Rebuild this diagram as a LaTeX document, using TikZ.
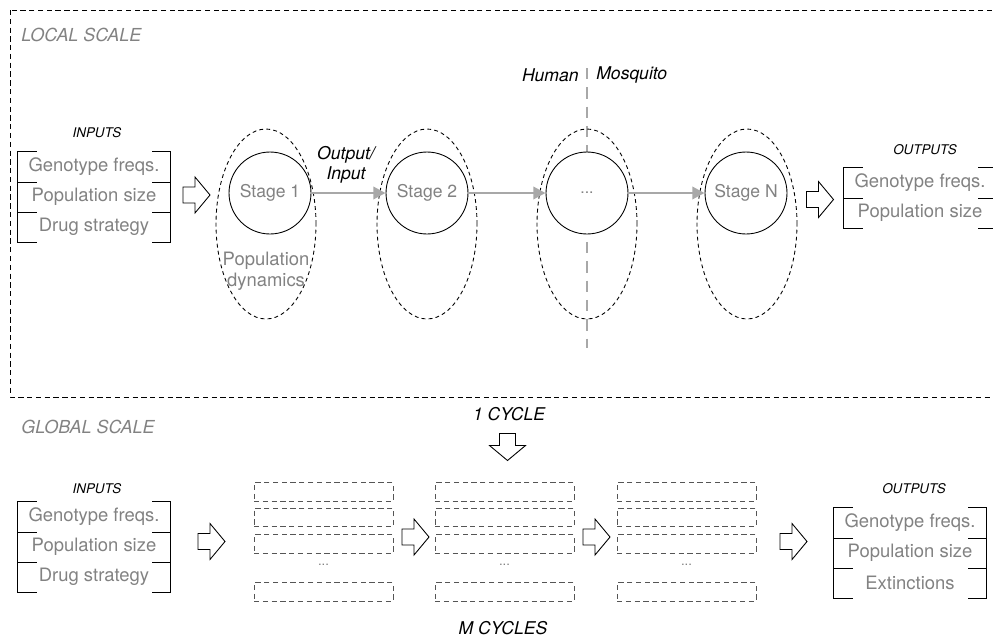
\documentclass[tikz,border=0pt]{standalone}
\usepackage{fontspec}
\setmainfont{TeX Gyre Heros}
\usetikzlibrary{arrows.meta,shapes.geometric,positioning}
\definecolor{txtgray}{RGB}{130,130,130}
\definecolor{linkgray}{RGB}{168,168,168}
\definecolor{boxgray}{RGB}{85,85,85}
\tikzset{harrow/.pic={\draw[line width=0.5pt,fill=white] (-13.5,-8) -- (-1.5,-8) -- (-1.5,-18) -- (13.5,0) -- (-1.5,18) -- (-1.5,8) -- (-13.5,8) -- cycle;}}

\begin{document}
\begin{tikzpicture}[x=0.02cm,y=-0.02cm,>={Triangle[length=7pt,width=7pt]},every node/.style={font=\fontsize{10}{12}\selectfont},row/.style={minimum width=3.04cm,minimum height=0.6cm,inner sep=0pt,text=txtgray,font=\fontsize{10.5}{12}\selectfont},head/.style={inner sep=0pt,font=\fontsize{7.6}{9}\selectfont\itshape},scalelbl/.style={anchor=west,inner sep=0pt,text=txtgray,font=\fontsize{10.2}{12}\selectfont\itshape},lbl/.style={inner sep=0pt,font=\fontsize{10}{11.3}\selectfont\itshape},stage/.style={circle,draw,fill=white,line width=0.5pt,minimum size=1.64cm,inner sep=0pt,text=txtgray},popell/.style={ellipse,draw,dash pattern=on 2.2pt off 1.8pt,line width=0.5pt,minimum width=2cm,minimum height=3.8cm,inner sep=0pt},flow/.style={->,linkgray,line width=1.6pt},cyc/.style={draw=boxgray,dash pattern=on 3pt off 2pt,line width=0.5pt,minimum width=2.78cm,minimum height=0.37cm,inner sep=0pt},]
\clip (0,0) rectangle (993,639);
% local scale
\draw[dash pattern=on 3pt off 2pt,line width=0.5pt] (10,10) rectangle (1010,397);
\node[scalelbl] (local) at (21,35) {LOCAL SCALE};
\node[head] (lin) at (97,133) {INPUTS};
\node[row] (li1) at (94,167) {Genotype freqs.};
\node[row] (li2) at (94,197) {Population size};
\node[row] (li3) at (94,227) {Drug strategy};
\draw ([xshift=0.38cm]li1.north west) -| (li3.south west) -- ++(19,0);
\draw ([xshift=-0.36cm]li1.north east) -| (li3.south east) -- ++(-18,0);
\draw (li1.south west) -- ++(19,0) (li1.south east) -- ++(-18,0);
\draw (li2.south west) -- ++(19,0) (li2.south east) -- ++(-18,0);
\pic (la1) at (196.5,195) {harrow};
% human | mosquito split, under the stages
\coordinate (hmtop) at (587,68);
\coordinate (hmbot) at (587,348);
\draw[linkgray,line width=1.6pt,dash pattern=on 6.5pt off 4.5pt] (hmtop) -- (hmbot);
\node[lbl,anchor=east] (human) at (579,75) {Human};
\node[lbl,anchor=west] (mosq) at (596,75) {Mosquito};
\node[popell] (e1) at (266,224) {};
\node[popell] (e2) at (427,224) {};
\node[popell] (e3) at (587,224) {};
\node[popell] (e4) at (747,224) {};
\node[stage] (s1) at (270,193) {Stage 1};
\node[stage] (s2) at (427,193) {Stage 2};
\node[stage] (s3) at (587,193) {\raisebox{-1pt}{\fontsize{9}{9}\selectfont...}};
\node[stage] (s4) at (746,193) {Stage N};
\node[text=txtgray,align=center,inner sep=0pt,font=\fontsize{10.5}{12}\selectfont] (pd) at (266,271) {Population\\dynamics};
\draw[flow] (s1) -- (s2);
\draw[flow] (s2) -- (s3);
\draw[flow] (s3) -- (s4);
\node[lbl,align=center] (oi) at (346,165) {Output/\\Input};
\pic (la2) at (820,199.5) {harrow};
\node[head] (lout) at (925,150) {OUTPUTS};
\node[row] (lo1) at (920,183) {Genotype freqs.};
\node[row] (lo2) at (920,213) {Population size};
\draw ([xshift=0.38cm]lo1.north west) -| (lo2.south west) -- ++(19,0);
\draw ([xshift=-0.36cm]lo1.north east) -| (lo2.south east) -- ++(-18,0);
\draw (lo1.south west) -- ++(19,0) (lo1.south east) -- ++(-18,0);
% global scale
\node[scalelbl] (global) at (21,427) {GLOBAL SCALE};
\node[lbl] (one) at (509,414) {1 CYCLE};
\pic[rotate=-90] (down) at (507.5,447) {harrow};
\node[head] (gin) at (97,489) {INPUTS};
\node[row] (gi1) at (94,517) {Genotype freqs.};
\node[row] (gi2) at (94,547) {Population size};
\node[row] (gi3) at (94,577) {Drug strategy};
\draw ([xshift=0.38cm]gi1.north west) -| (gi3.south west) -- ++(19,0);
\draw ([xshift=-0.36cm]gi1.north east) -| (gi3.south east) -- ++(-18,0);
\draw (gi1.south west) -- ++(19,0) (gi1.south east) -- ++(-18,0);
\draw (gi2.south west) -- ++(19,0) (gi2.south east) -- ++(-18,0);
\foreach \gx [count=\g] in {323.5,504.5,686.5} {
\foreach \ry [count=\r] in {492,517.5,544,592}
\node[cyc] (c\g-\r) at (\gx,\ry) {};
\node[text=txtgray,font=\fontsize{7.5}{8}\selectfont] (d\g) at (\gx,565) {...};
}
\pic (ga1) at (211.5,541.5) {harrow};
\pic (ga2) at (415.5,537) {harrow};
\pic (ga3) at (596.5,537) {harrow};
\pic (ga4) at (793.5,541.5) {harrow};
\node[head] (gout) at (914,489) {OUTPUTS};
\node[row] (go1) at (910,523) {Genotype freqs.};
\node[row] (go2) at (910,553) {Population size};
\node[row] (go3) at (910,583) {Extinctions};
\draw ([xshift=0.38cm]go1.north west) -| (go3.south west) -- ++(19,0);
\draw ([xshift=-0.36cm]go1.north east) -| (go3.south east) -- ++(-18,0);
\draw (go1.south west) -- ++(19,0) (go1.south east) -- ++(-18,0);
\draw (go2.south west) -- ++(19,0) (go2.south east) -- ++(-18,0);
\node[lbl] (many) at (503,628) {M CYCLES};
\end{tikzpicture}
\end{document}
